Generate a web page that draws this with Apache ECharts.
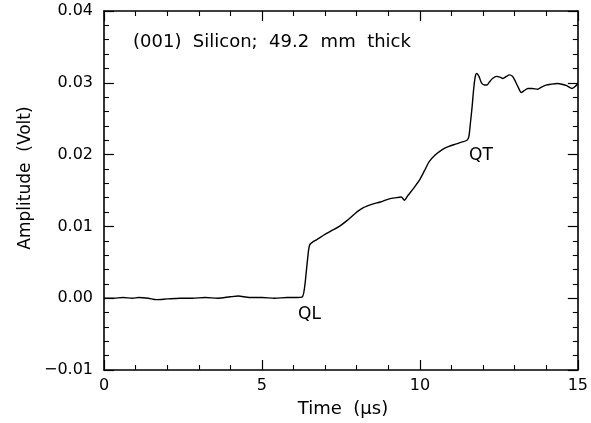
<!DOCTYPE html>
<html><head><meta charset="utf-8">
<script src="https://cdn.jsdelivr.net/npm/echarts@6/dist/echarts.min.js"></script>
<style>html,body{margin:0;padding:0;background:#fff}#c{width:591px;height:423px}</style>
</head><body><div id="c"></div>
<script>
var timeUs = [0,0.3,0.6,0.9,1.1,1.4,1.66,2.0,2.4,2.8,3.2,3.6,4.0,4.25,4.6,5.0,5.4,5.8,6.1,6.28,6.35,6.42,6.48,6.52,6.6,6.75,6.96,7.2,7.45,7.69,7.95,8.21,8.5,8.75,8.94,9.1,9.25,9.41,9.51,9.62,9.8,9.98,10.15,10.29,10.5,10.71,10.9,11.125,11.3,11.49,11.55,11.6,11.65,11.7,11.75,11.8,11.87,11.95,12.05,12.12,12.2,12.3,12.43,12.53,12.63,12.74,12.84,12.93,13.0,13.1,13.21,13.3,13.42,13.55,13.73,13.85,13.99,14.15,14.35,14.5,14.65,14.82,14.92,15.0];
var amplitude = [0.0000,0.0000,0.0001,0.0000,0.0001,0.0000,-0.0002,-0.0001,0.0000,0.0000,0.0001,0.0000,0.0002,0.0003,0.0001,0.0001,0.0000,0.0001,0.0001,0.0002,0.0015,0.0044,0.0068,0.0075,0.0078,0.0082,0.0088,0.0094,0.0100,0.0108,0.0118,0.0126,0.0131,0.0134,0.0137,0.0139,0.0140,0.0141,0.01365,0.0143,0.0153,0.0164,0.0178,0.0190,0.0200,0.0207,0.0211,0.02145,0.0217,0.0220,0.0225,0.0244,0.0265,0.0290,0.0308,0.0313,0.0309,0.0300,0.0297,0.0297,0.0301,0.0306,0.0309,0.0308,0.0306,0.0309,0.0311,0.0309,0.0304,0.0295,0.02865,0.0289,0.0292,0.0292,0.0291,0.0294,0.02967,0.0298,0.0299,0.0298,0.0296,0.0292,0.0295,0.0299];
var xTicks = [0,5,10,15];
var yTicks = [-0.01,0.00,0.01,0.02,0.03,0.04];
var titleText = '(001)  Silicon;  49.2  mm  thick';
var yName = 'Amplitude  (Volt)';
var xName = 'Time  (μs)';
var peakLabels = ['QL','QT'];

var F = 'DejaVu Sans';
var chart = echarts.init(document.getElementById('c'), null, {renderer:'canvas'});
var data = timeUs.map(function(t,i){return [t, amplitude[i]];});
function axisCommon(showLabel){
  return {
    axisLine:{show:true,onZero:false,lineStyle:{color:'#000',width:1.6}},
    axisTick:{show:true,inside:true,length:10,lineStyle:{color:'#000',width:1.2}},
    minorTick:{show:true,splitNumber:5,length:5,lineStyle:{color:'#000',width:1.1}},
    splitLine:{show:false},
    axisLabel:{show:showLabel,color:'#000',fontFamily:F,fontSize:16}
  };
}
var xb = Object.assign(axisCommon(true), {type:'value',position:'bottom',min:xTicks[0],max:xTicks[xTicks.length-1],interval:5});
xb.axisLabel.margin = 8;
var xt = Object.assign(axisCommon(false), {type:'value',position:'top',min:xTicks[0],max:xTicks[xTicks.length-1],interval:5});
var yl = Object.assign(axisCommon(true), {type:'value',position:'left',min:yTicks[0],max:yTicks[yTicks.length-1],interval:0.01});
yl.axisLabel.margin = 11;
yl.axisLabel.formatter = function(v){ return v < 0 ? '\u2212' + Math.abs(v).toFixed(2) : v.toFixed(2); };
var yr = Object.assign(axisCommon(false), {type:'value',position:'right',min:yTicks[0],max:yTicks[yTicks.length-1],interval:0.01});

var graphics = [
  {type:'text',x:133,y:42,style:{text:titleText,font:'18px "DejaVu Sans"',fill:'#000',verticalAlign:'middle'}},
  {type:'text',x:26,y:178,rotation:Math.PI/2,style:{text:yName,font:'17px "DejaVu Sans"',fill:'#000',align:'center',verticalAlign:'middle'}},
  {type:'text',x:343,y:409,style:{text:xName,font:'18px "DejaVu Sans"',fill:'#000',align:'center',verticalAlign:'middle'}},
  {type:'text',x:298,y:315,style:{text:peakLabels[0],font:'17px "DejaVu Sans"',fill:'#000',verticalAlign:'middle'}},
  {type:'text',x:469,y:156,style:{text:peakLabels[1],font:'17px "DejaVu Sans"',fill:'#000',verticalAlign:'middle'}}
];

chart.setOption({
  animation:false,
  backgroundColor:'#fff',
  grid:{left:104,right:7,top:11,bottom:53,containLabel:false},
  xAxis:[xb, xt],
  yAxis:[yl, yr],
  series:[{type:'line',data:data,xAxisIndex:0,yAxisIndex:0,showSymbol:false,smooth:0.25,
    lineStyle:{color:'#000',width:1.4}}],
  graphic:graphics
});
</script></body></html>
